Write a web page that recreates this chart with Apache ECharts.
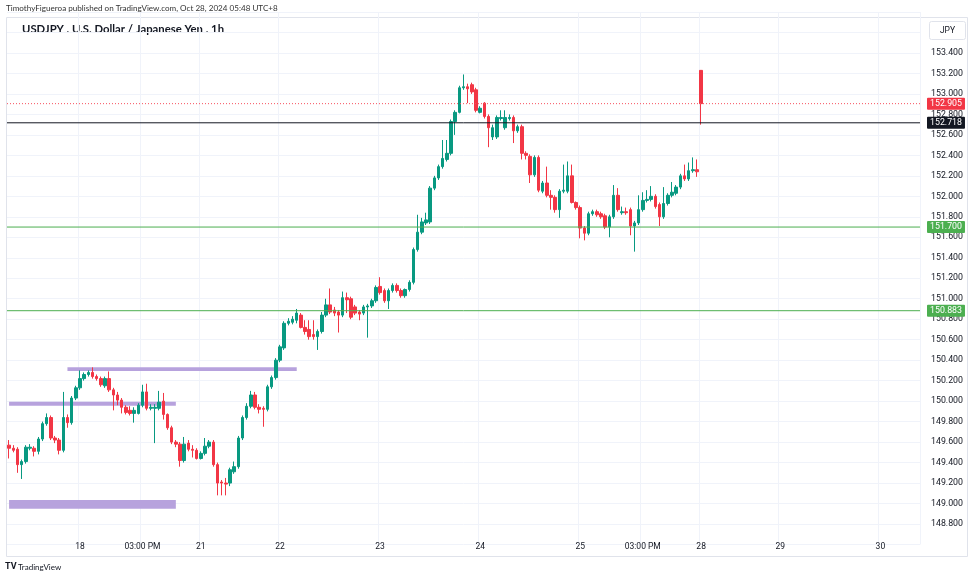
<!DOCTYPE html>
<html><head><meta charset="utf-8">
<script src="https://cdn.jsdelivr.net/npm/echarts@6/dist/echarts.min.js"></script>
<style>html,body{margin:0;padding:0;background:#fff}#c{width:975px;height:580px}</style>
</head><body><div id="c"></div>
<script>
// ---- data (USDJPY 1h, prices) ----
const opens=[149.57,149.54,149.53,149.38,149.41,149.54,149.54,149.51,149.63,149.78,
149.84,149.64,149.62,149.52,149.84,149.79,150.03,150.13,150.22,150.26,
150.28,150.24,150.22,150.15,150.22,150.11,150.06,150.01,149.94,149.91,
149.88,149.88,149.96,150.09,149.93,149.93,149.93,150.00,149.87,149.74,
149.60,149.58,149.42,149.59,149.53,149.52,149.44,149.49,149.56,149.60,
149.38,149.21,149.20,149.20,149.31,149.36,149.64,149.84,149.95,150.06,
149.94,149.93,149.92,150.14,150.23,150.40,150.52,150.76,150.77,150.79,
150.84,150.72,150.70,150.65,150.63,150.68,150.84,150.94,150.89,150.87,
150.84,151.01,151.00,150.92,150.87,150.86,150.92,150.93,150.98,151.12,
151.08,150.98,151.08,151.13,151.08,151.03,151.09,151.16,151.48,151.65,
151.74,151.75,152.08,152.18,152.29,152.36,152.42,152.73,152.82,153.06,
153.07,153.09,153.04,152.82,152.91,152.78,152.58,152.58,152.76,152.67,
152.76,152.77,152.64,152.68,152.42,152.39,152.21,152.38,152.05,152.13,
152.01,151.99,151.87,152.05,152.05,152.20,151.94,151.89,151.69,151.64,
151.83,151.85,151.83,151.81,151.70,151.80,152.01,151.84,151.85,151.87,
151.71,151.74,151.87,151.96,151.97,152.00,151.92,151.80,151.93,152.01,
152.03,152.09,152.20,152.17,152.25,152.26,153.23];
const closes=[149.54,149.52,149.38,149.41,149.55,149.55,149.51,149.63,149.78,149.84,
149.64,149.62,149.52,149.84,149.79,150.03,150.13,150.22,150.26,150.28,
150.24,150.22,150.16,150.22,150.11,150.06,150.01,149.94,149.89,149.88,
149.91,149.96,150.09,149.93,149.94,149.94,149.99,149.87,149.74,149.60,
149.58,149.42,149.58,149.53,149.52,149.44,149.49,149.56,149.60,149.38,
149.20,149.20,149.19,149.33,149.36,149.64,149.84,149.95,150.06,149.94,
149.92,149.92,150.14,150.23,150.40,150.53,150.76,150.78,150.80,150.86,
150.72,150.68,150.63,150.63,150.68,150.84,150.94,150.87,150.86,150.84,
151.01,150.99,150.82,150.86,150.85,150.92,150.93,150.98,151.11,151.06,
150.98,151.08,151.13,151.08,151.03,151.09,151.16,151.48,151.65,151.75,
151.77,152.08,152.18,152.29,152.37,152.42,152.73,152.82,153.06,153.07,
153.05,153.02,152.84,152.86,152.78,152.67,152.67,152.77,152.77,152.77,
152.77,152.64,152.68,152.42,152.40,152.21,152.38,152.06,152.13,152.01,
151.99,151.87,152.05,152.06,152.20,151.94,151.89,151.69,151.64,151.83,
151.85,151.82,151.80,151.70,151.80,152.01,151.87,151.85,151.84,151.71,
151.74,151.87,151.96,151.97,152.00,151.90,151.80,151.93,152.01,152.04,
152.09,152.20,152.17,152.25,152.26,152.24,152.905];
const highs=[149.62,149.57,149.55,149.43,149.57,149.58,149.56,149.65,149.80,149.88,
149.86,149.66,149.64,150.09,149.87,150.05,150.15,150.30,150.28,150.30,
150.33,150.26,150.24,150.24,150.29,150.13,150.09,150.03,149.96,149.95,
149.94,149.98,150.16,150.17,149.97,149.97,150.10,150.08,149.88,149.76,
149.62,149.60,149.65,149.62,149.57,149.54,149.51,149.64,149.62,149.62,
149.40,149.23,149.25,149.35,149.41,149.66,149.86,149.98,150.10,150.09,
149.97,149.95,150.16,150.25,150.42,150.55,150.78,150.81,150.83,150.90,
150.86,150.79,150.79,150.79,150.70,150.87,151.00,151.10,150.92,150.89,
151.07,151.06,151.02,150.94,150.89,150.94,150.95,151.00,151.13,151.21,
151.10,151.10,151.15,151.15,151.10,151.10,151.18,151.50,151.82,151.79,
151.84,152.10,152.20,152.31,152.55,152.55,152.75,152.84,153.08,153.19,
153.10,153.11,153.06,152.88,152.92,152.80,152.70,152.79,152.84,152.84,
152.80,152.79,152.70,152.70,152.44,152.41,152.40,152.40,152.15,152.29,
152.06,152.01,152.07,152.31,152.34,152.31,151.95,151.91,151.71,151.85,
151.87,151.87,151.85,151.83,151.82,152.11,152.08,151.90,151.89,151.89,
151.76,152.01,152.04,152.06,152.10,152.02,151.94,152.09,152.03,152.14,
152.11,152.22,152.31,152.33,152.38,152.36,153.23];
const lows=[149.44,149.50,149.30,149.24,149.39,149.52,149.46,149.48,149.61,149.76,
149.62,149.59,149.48,149.50,149.74,149.77,150.01,150.11,150.20,150.24,
150.22,150.20,150.14,150.13,150.09,149.91,149.96,149.88,149.87,149.86,
149.79,149.87,149.94,149.91,149.91,149.59,149.91,149.82,149.72,149.58,
149.55,149.36,149.40,149.51,149.45,149.43,149.43,149.47,149.54,149.36,
149.08,149.08,149.08,149.17,149.29,149.34,149.62,149.82,149.93,149.92,
149.88,149.75,149.90,150.12,150.21,150.38,150.50,150.74,150.75,150.76,
150.71,150.65,150.60,150.60,150.50,150.66,150.82,150.85,150.83,150.67,
150.82,150.86,150.80,150.84,150.79,150.84,150.62,150.91,150.96,151.04,
150.96,150.90,151.06,151.06,151.01,151.01,151.07,151.14,151.46,151.63,
151.72,151.73,152.06,152.16,152.27,152.34,152.40,152.60,152.81,153.04,
152.91,153.00,152.82,152.81,152.76,152.48,152.55,152.56,152.74,152.65,
152.74,152.52,152.62,152.36,152.36,152.13,152.19,152.04,152.03,151.99,
151.87,151.84,151.79,152.03,152.03,151.93,151.87,151.59,151.57,151.62,
151.81,151.80,151.78,151.68,151.60,151.78,151.85,151.82,151.82,151.62,
151.46,151.72,151.85,151.94,151.95,151.88,151.71,151.78,151.91,151.99,
152.01,152.07,152.15,152.15,152.23,152.19,152.70];

// horizontal price lines (last price, drawn line, two support levels)
const priceLevels=[152.905,152.718,151.700,150.883];
// drawn zones: start slot, end slot, low price, high price
const zoneStarts=[14,0,0];
const zoneEnds=[69,40,40];
const zoneLows=[150.295,149.955,148.95];
const zoneHighs=[150.33,149.995,149.035];

// time axis ticks
const tickTimes=['10-18 00:00','10-18 15:00','10-21 05:00','10-22 00:00','10-23 00:00','10-24 00:00','10-25 00:00','10-25 15:00','10-28 05:00','10-29 00:00','10-30 00:00'];
const tickLabels=['18','03:00 PM','21','22','23','24','25','03:00 PM','28','29','30'];
const priceAxisMin=148.6, priceAxisMax=153.8, priceStep=0.2;
const labelLow=148.8, labelHigh=153.4;

// ---- hourly trading-session categories (UTC+8 clock, weekend removed) ----
const totalSlots=219;
const categories=[];
(function(){
  let t=Date.UTC(2024,9,17,7);
  const p=n=>String(n).padStart(2,'0');
  while(categories.length<totalSlots){
    const d=new Date(t),dow=d.getUTCDay(),h=d.getUTCHours();
    const closed=(dow===6&&h>=5)||dow===0||(dow===1&&h<5);
    if(!closed) categories.push(p(d.getUTCMonth()+1)+'-'+p(d.getUTCDate())+' '+p(h)+':00');
    t+=3600000;
  }
})();
const ohlc=opens.map((o,i)=>[o,closes[i],lows[i],highs[i]]);

const UP='#089981',DOWN='#f23645';
const levelColors=['#f7525f','#131722','#4caf50','#4caf50'];
const levelTypes=[[1,2],'solid','solid','solid'];
const levelBg=['#f23645','#131722','#4caf50','#4caf50'];
const isTick=v=>tickTimes.indexOf(v)>=0;
const FONT='Roboto, "Open Sans", sans-serif';

// level lines on a hidden 0..1 x axis spanning the full plot width
const levelSeries=priceLevels.map((v,k)=>({
  type:'line',xAxisIndex:1,yAxisIndex:0,data:[[0,v],[1,v]],symbol:'none',silent:true,z:4,
  color:levelColors[k],
  lineStyle:{color:levelColors[k],type:levelTypes[k],width:1},
  endLabel:{show:true,formatter:()=>v.toFixed(3),color:'#ffffff',backgroundColor:levelBg[k],
    padding:[2,3,1,3],fontSize:8.8,fontFamily:FONT,distance:7,borderRadius:1}
}));

const chart=echarts.init(document.getElementById('c'),null,{renderer:'canvas'});
chart.setOption({
  animation:false,
  backgroundColor:'#ffffff',
  grid:{left:7,right:55,top:12,bottom:35.5,containLabel:false},
  xAxis:[{type:'category',data:categories,boundaryGap:true,offset:-8,
    axisLine:{show:false},
    axisTick:{show:false},
    axisLabel:{interval:(i,v)=>isTick(v),formatter:v=>tickLabels[tickTimes.indexOf(v)],
      color:'#131722',fontSize:8.5,fontFamily:FONT,margin:6},
    splitLine:{show:true,interval:(i,v)=>isTick(v),lineStyle:{color:'#f0f3fa',width:1}}
  },{type:'value',min:0,max:1,show:false}],
  yAxis:{type:'value',position:'right',min:priceAxisMin,max:priceAxisMax,interval:priceStep,
    axisLine:{show:false},axisTick:{show:false},
    axisLabel:{formatter:v=>(v<labelLow-0.01||v>labelHigh+0.01)?'':v.toFixed(3),color:'#131722',
      fontSize:8.8,fontFamily:FONT,margin:11,align:'left'},
    splitLine:{show:true,lineStyle:{color:'#f0f3fa',width:1}}
  },
  series:[{
    type:'candlestick',data:ohlc,barWidth:3,z:3,
    itemStyle:{color:UP,color0:DOWN,borderColor:UP,borderColor0:DOWN,borderWidth:1},
    markArea:{silent:true,itemStyle:{color:'rgba(179,157,219,0.95)'},
      data:zoneStarts.map((s,k)=>[{xAxis:categories[s],yAxis:zoneLows[k]},{xAxis:categories[zoneEnds[k]],yAxis:zoneHighs[k]}])}
  }].concat(levelSeries),
  graphic:[
    {type:'text',left:6,top:4,style:{text:'TimothyFigueroa published on TradingView.com, Oct 28, 2024 05:48 UTC+8',fill:'#333333',font:'8.1px Lato, sans-serif'}},
    {type:'rect',shape:{x:6.5,y:17.5,width:961,height:539},style:{fill:'none',stroke:'#e0e3eb',lineWidth:1},z:-1},
    {type:'text',left:22,top:24,style:{text:'USDJPY . U.S. Dollar / Japanese Yen . 1h',fill:'#131722',font:'bold 11.3px Lato, sans-serif'}},
    {type:'rect',shape:{x:929.5,y:21.5,width:36,height:18,r:2},style:{fill:'#fff',stroke:'#e0e3eb',lineWidth:1}},
    {type:'text',x:947.5,y:30.5,style:{text:'JPY',fill:'#131722',font:'8.5px Roboto, sans-serif',textAlign:'center',textVerticalAlign:'middle'}},
    {type:'text',left:5,top:562,style:{text:'TV',fill:'#131722',font:'bold 9px Roboto, sans-serif'}},
    {type:'text',left:18,top:563,style:{text:'TradingView',fill:'#131722',font:'8px Lato, sans-serif'}}
  ]
});
</script></body></html>
